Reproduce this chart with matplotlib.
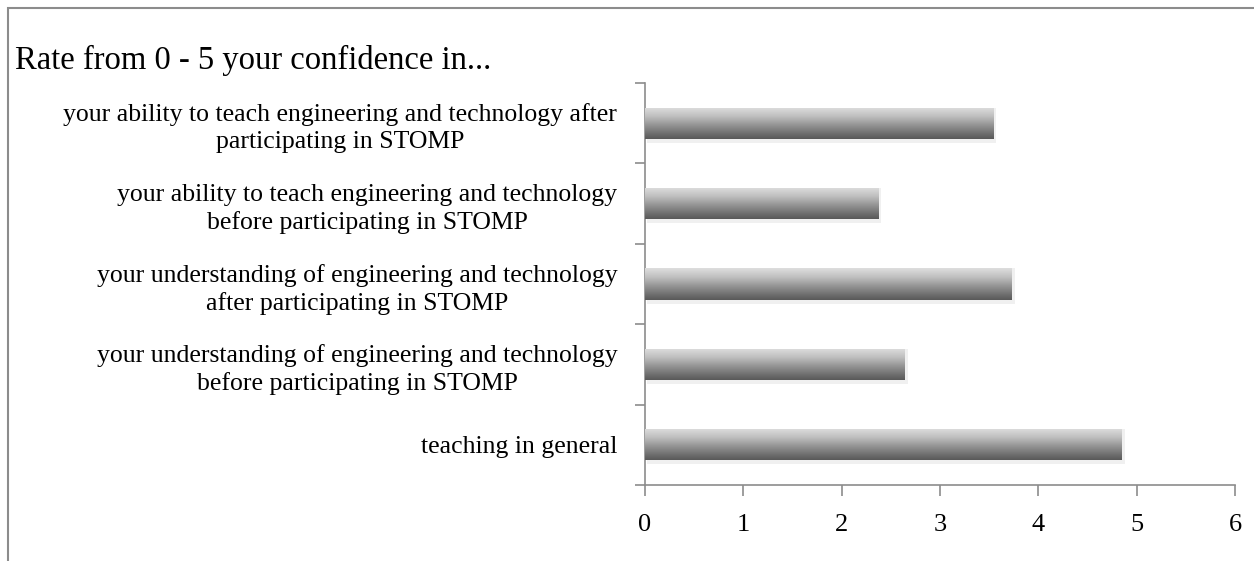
import numpy as np
import matplotlib.pyplot as plt
from matplotlib.patches import Rectangle

# datos (de abajo hacia arriba)
categorias = [
    "teaching in general",
    "your understanding of engineering and technology\nbefore participating in STOMP",
    "your understanding of engineering and technology\nafter participating in STOMP",
    "your ability to teach engineering and technology\nbefore participating in STOMP",
    "your ability to teach engineering and technology after\nparticipating in STOMP",
]
valores = [4.85, 2.64, 3.73, 2.37, 3.54]
x_ticks = [0, 1, 2, 3, 4, 5, 6]
titulo = "Rate from 0 - 5 your confidence in..."

plt.rcParams['font.family'] = ['Liberation Serif', 'DejaVu Serif']

fig = plt.figure(figsize=(12.54, 5.61), dpi=100)
ax = fig.add_axes([0.5144, 0.1355, 0.4704, 0.7165])

# marco gris alrededor del grafico
fig.patches.append(Rectangle((8 / 1254, -0.05), 1.2, 1 - 8 / 561 + 0.05,
                             transform=fig.transFigure, fill=False,
                             edgecolor='#8c8c8c', linewidth=1.5))

y = np.arange(len(categorias))
alto = 0.39
grad = np.linspace(0, 1, 256).reshape(-1, 1)

for yi, v in zip(y, valores):
    # sombra suave
    sombra = Rectangle((0.02, yi - alto / 2 - 0.05), v + 0.01, alto + 0.05,
                       facecolor='#f0f0f0', edgecolor='none', zorder=1)
    ax.add_patch(sombra)
    barra = ax.barh(yi, v, height=alto, color='none', edgecolor='none', zorder=2)[0]
    img = ax.imshow(grad, cmap='Greys', vmin=-0.45, vmax=1.55, aspect='auto',
                    extent=[0, v, yi - alto / 2, yi + alto / 2], origin='upper',
                    zorder=3, interpolation='bilinear')
    img.set_clip_path(barra)

ax.set_xlim(0, 6)
ax.set_ylim(-0.5, len(categorias) - 0.5)
ax.set_xticks(x_ticks)
ax.set_xticklabels([str(t) for t in x_ticks])
ax.set_yticks(y)
ax.set_yticklabels(categorias, multialignment='center', linespacing=1.3)
ax.set_yticks(np.arange(-0.5, len(categorias), 1), minor=True)

for s in ['top', 'right']:
    ax.spines[s].set_visible(False)
for s in ['left', 'bottom']:
    ax.spines[s].set_color('#8c8c8c')
    ax.spines[s].set_linewidth(1.2)

ax.tick_params(axis='y', which='major', length=0, pad=20, labelsize=18.5)
ax.tick_params(axis='y', which='minor', length=7, color='#8c8c8c', width=1.2)
ax.tick_params(axis='x', length=8, color='#8c8c8c', width=1.2, pad=13, labelsize=19)

fig.text(15 / 1254, 1 - 60 / 561, titulo, fontsize=23.5, ha='left', va='center')

fig.savefig('out.png', dpi=100)
